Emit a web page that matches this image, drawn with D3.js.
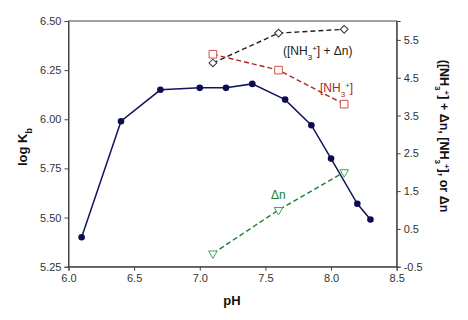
<!DOCTYPE html>
<html><head><meta charset="utf-8">
<script src="https://cdn.jsdelivr.net/npm/d3@7"></script>
<style>
body{margin:0;background:#fff;}
text{font-family:"Liberation Sans",Arial,sans-serif;}
</style></head>
<body><svg id="c" width="468" height="320"></svg>
<script>
// Data
const kbPH   = [6.1, 6.4, 6.7, 7.0, 7.2, 7.4, 7.65, 7.85, 8.0, 8.2, 8.3];
const kbLog  = [5.40, 5.99, 6.15, 6.16, 6.16, 6.18, 6.10, 5.97, 5.80, 5.57, 5.49];
const rightPH = [7.1, 7.6, 8.1];
const sumVals = [4.89, 5.68, 5.78];   // ([NH3+] + Δn)
const nh3Vals = [5.12, 4.70, 3.80];   // [NH3+]
const dnVals  = [-0.15, 1.0, 2.0];    // Δn
const xTicks = [6.0, 6.5, 7.0, 7.5, 8.0, 8.5];
const yLTicks = [5.25, 5.50, 5.75, 6.00, 6.25, 6.50];
const yRTicks = [-0.5, 0.5, 1.5, 2.5, 3.5, 4.5, 5.5];

const svg = d3.select("#c");
const L = 68.5, R = 396.7, T = 21, B = 266.7;
const x = d3.scaleLinear().domain([6, 8.5]).range([L, R]);
const yL = d3.scaleLinear().domain([5.25, 6.5]).range([B, T]);
const yR = d3.scaleLinear().domain([-0.5, 6.0]).range([B, T]);

const axCol = "#444", txtCol = "#333";
// frame
svg.append("rect").attr("x", L).attr("y", T).attr("width", R - L).attr("height", B - T)
  .attr("fill", "none").attr("stroke", axCol).attr("stroke-width", 1);

function styleAxis(g){
  g.select(".domain").attr("stroke", axCol);
  g.selectAll(".tick line").attr("stroke", axCol);
  g.selectAll(".tick text").attr("fill", txtCol).style("font-size", "11px")
    .style("font-family", '"Liberation Sans",Arial,sans-serif');
}
svg.append("g").attr("transform", `translate(0,${B})`)
  .call(d3.axisBottom(x).tickValues(xTicks).tickFormat(d3.format(".1f")).tickSizeOuter(0).tickSize(4).tickPadding(4))
  .call(styleAxis);
svg.append("g").attr("transform", `translate(${L},0)`)
  .call(d3.axisLeft(yL).tickValues(yLTicks).tickFormat(d3.format(".2f")).tickSizeOuter(0).tickSize(4).tickPadding(3))
  .call(styleAxis);
svg.append("g").attr("transform", `translate(${R},0)`)
  .call(d3.axisRight(yR).tickValues(yRTicks).tickFormat(d => d3.format(".1f")(d).replace("−","-")).tickSizeOuter(0).tickSize(4).tickPadding(3))
  .call(styleAxis);

// Axis titles
svg.append("text").attr("x", 232).attr("y", 305).attr("text-anchor", "middle")
  .style("font-size", "13px").style("font-weight", "bold").attr("fill", "#111").text("pH");
const lt = svg.append("text").attr("transform", "translate(27,147) rotate(-90)").attr("text-anchor", "middle")
  .style("font-size", "13px").style("font-weight", "bold").attr("fill", "#111");
lt.append("tspan").text("log K");
lt.append("tspan").attr("baseline-shift", "sub").style("font-size", "9px").text("b");

const rt = svg.append("text").attr("transform", "translate(440,136) rotate(90)").attr("text-anchor", "middle")
  .style("font-size", "12.5px").style("font-weight", "bold").attr("fill", "#111");
function nh3(t, fs){
  t.append("tspan").text("[NH");
  t.append("tspan").attr("baseline-shift", "sub").style("font-size", fs).text("3");
  t.append("tspan").attr("baseline-shift", "super").style("font-size", fs).text("+");
  t.append("tspan").text("]");
}
rt.append("tspan").text("(");
nh3(rt, "8px");
rt.append("tspan").text(" + Δn, ");
nh3(rt, "8px");
rt.append("tspan").text(", or Δn");

// Blue log Kb line
const lineL = d3.line().x(d => x(d[0])).y(d => yL(d[1]));
const kbData = kbPH.map((p, i) => [p, kbLog[i]]);
svg.append("path").datum(kbData).attr("d", lineL).attr("fill", "none").attr("stroke", "#14145e").attr("stroke-width", 1.5);
svg.selectAll(".kb").data(kbData).enter().append("circle")
  .attr("cx", d => x(d[0])).attr("cy", d => yL(d[1])).attr("r", 3.3).attr("fill", "#0c0c50");

// Right-axis series
const lineR = d3.line().x(d => x(d[0])).y(d => yR(d[1]));
function series(vals, col, mcol, sym, size, rot){
  const data = rightPH.map((p, i) => [p, vals[i]]);
  svg.append("path").datum(data).attr("d", lineR).attr("fill", "none")
    .attr("stroke", col).attr("stroke-width", 1.4).attr("stroke-dasharray", "5,3");
  svg.selectAll(null).data(data).enter().append("path")
    .attr("d", d3.symbol().type(sym).size(size))
    .attr("transform", d => `translate(${x(d[0])},${yR(d[1])}) rotate(${rot})`)
    .attr("fill", "#fff").attr("stroke", mcol).attr("stroke-width", 1);
}
series(sumVals, "#222", "#333", d3.symbolSquare, 30, 45);
series(nh3Vals, "#b3231e", "#d0504a", d3.symbolSquare, 58, 0);
series(dnVals, "#1d7f30", "#44a455", d3.symbolTriangle, 32, 180);

// Labels
const l1 = svg.append("text").attr("x", 283).attr("y", 55).style("font-size", "12px").attr("fill", "#222");
l1.append("tspan").text("(");
nh3(l1, "8px");
l1.append("tspan").text(" + Δn)");
const l2 = svg.append("text").attr("x", 320).attr("y", 92).style("font-size", "12px").attr("fill", "#b3231e");
nh3(l2, "8px");
svg.append("text").attr("x", 271).attr("y", 199).style("font-size", "12px").attr("fill", "#1d7f30").text("Δn");
</script></body></html>
